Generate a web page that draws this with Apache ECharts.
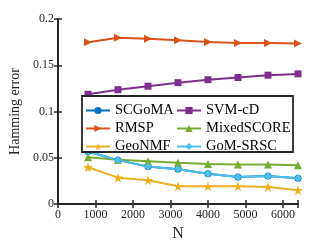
<!DOCTYPE html>
<html><head><meta charset="utf-8">
<script src="https://cdn.jsdelivr.net/npm/echarts@6/dist/echarts.min.js"></script>
<style>html,body{margin:0;padding:0;background:#fff}#c{width:329px;height:247px}</style>
</head><body><div id="c"></div>
<script>
const N = [800, 1600, 2400, 3200, 4000, 4800, 5600, 6400];
const xTicks = [0, 1000, 2000, 3000, 4000, 5000, 6000];
const yTicks = [0, 0.05, 0.1, 0.15, 0.2];
const SCGoMA = [0.0569, 0.0475, 0.0405, 0.0377, 0.0328, 0.0293, 0.0304, 0.0279];
const RMSP = [0.1749, 0.1798, 0.1787, 0.1770, 0.1752, 0.1742, 0.1740, 0.1735];
const GeoNMF = [0.0398, 0.0286, 0.0258, 0.0192, 0.0192, 0.0192, 0.0185, 0.0150];
const SVMcD = [0.1187, 0.1236, 0.1274, 0.1312, 0.1344, 0.1368, 0.1393, 0.1407];
const MixedSCORE = [0.0506, 0.0478, 0.0464, 0.0447, 0.0433, 0.0429, 0.0429, 0.0419];
const GoMSRSC = [0.0569, 0.0475, 0.0405, 0.0377, 0.0328, 0.0293, 0.0304, 0.0279];

const font = 'Liberation Serif';
const axisColor = '#262626';
const star = 'path://M50,0 L61.8,36.2 L100,36.2 L69.1,58.6 L80.9,95.1 L50,72.7 L19.1,95.1 L30.9,58.6 L0,36.2 L38.2,36.2 Z';
const rtri = 'path://M0,0 L10,5 L0,10 Z';

function pairs(v){ return N.map((x,i)=>[x, v[i]]); }
function mk(name, data, color, symbol, size){
  return {name, type:'line', data:pairs(data), symbol, symbolSize:size,
    lineStyle:{color, width:2}, itemStyle:{color}, color, showSymbol:true, z:2, animation:false};
}
const series = [
  mk('SCGoMA', SCGoMA, '#0072BD', 'circle', 7),
  mk('RMSP', RMSP, '#D95319', rtri, 8),
  mk('GeoNMF', GeoNMF, '#EDB120', star, 10),
  mk('SVM-cD', SVMcD, '#7E2F8E', 'rect', 7),
  mk('MixedSCORE', MixedSCORE, '#77AC30', 'triangle', 8),
  mk('GoM-SRSC', GoMSRSC, '#4DBEEE', 'diamond', 8)
];

const tickCommon = {inside:true, length:4, lineStyle:{color:axisColor, width:1.5}};
const lineCommon = {show:true, lineStyle:{color:axisColor, width:1.8}};
const legText = {fontFamily:font, fontSize:14.5, color:'#000',
  rich:{a:{fontFamily:font, fontSize:14.5, color:'#000', lineHeight:14}}};
const chart = echarts.init(document.getElementById('c'), null, {renderer:'canvas'});
chart.setOption({
  animation:false,
  backgroundColor:'#fff',
  textStyle:{fontFamily:font},
  grid:{left:44, right:31, top:19, bottom:38},
  xAxis:[
    {type:'value', min:0, max:6400, interval:1000, position:'bottom',
     name:'N', nameLocation:'middle', nameGap:21,
     nameTextStyle:{fontFamily:font, fontSize:16, color:axisColor},
     axisLine:lineCommon, axisTick:tickCommon, splitLine:{show:false},
     axisLabel:{fontFamily:font, fontSize:12, color:axisColor, margin:5,
       formatter:v=>xTicks.includes(v)?String(v):''}},
    {type:'value', min:0, max:6400, interval:1000, position:'top',
     axisLine:lineCommon, axisTick:tickCommon, splitLine:{show:false}, axisLabel:{show:false}}
  ],
  yAxis:[
    {type:'value', min:0, max:0.2, interval:0.05, position:'left',
     name:'Hamming error', nameLocation:'middle', nameGap:36, nameRotate:90,
     nameTextStyle:{fontFamily:font, fontSize:14, color:axisColor},
     axisLine:lineCommon, axisTick:tickCommon, splitLine:{show:false},
     axisLabel:{fontFamily:font, fontSize:12, color:axisColor, margin:4,
       formatter:v=>{const t=yTicks.find(q=>Math.abs(q-v)<1e-9); return t===undefined?'':String(t);}}},
    {type:'value', min:0, max:0.2, interval:0.05, position:'right',
     axisLine:lineCommon, axisTick:tickCommon, splitLine:{show:false}, axisLabel:{show:false}}
  ],
  graphic:[{type:'rect', shape:{x:82, y:96, width:211, height:56},
    style:{fill:'#fff', stroke:axisColor, lineWidth:1.8}, z:3}],
  legend:[
    {data:['SCGoMA','RMSP','GeoNMF'], orient:'vertical', left:85, top:103, padding:0,
     itemWidth:24, itemHeight:9, itemGap:3, z:5, formatter:'{a|{name}}',
     textStyle:legText},
    {data:['SVM-cD','MixedSCORE','GoM-SRSC'], orient:'vertical', left:176, top:103, padding:0,
     itemWidth:24, itemHeight:9, itemGap:3, z:5, formatter:'{a|{name}}',
     textStyle:legText}
  ],
  series
});
</script></body></html>
